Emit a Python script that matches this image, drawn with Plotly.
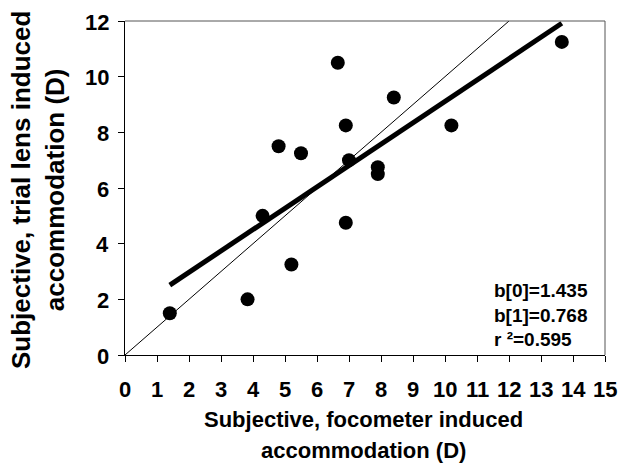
import plotly.graph_objects as go

# Data
x_focometer = [1.4, 3.83, 4.3, 4.8, 5.2, 5.5, 6.65, 6.9, 7.0, 6.9, 7.9, 7.9, 8.4, 10.2, 13.65]
y_trial = [1.5, 2.0, 5.0, 7.5, 3.25, 7.25, 10.5, 8.25, 7.0, 4.75, 6.75, 6.5, 9.25, 8.25, 11.25]
b0 = 1.435
b1 = 0.768
r2 = 0.595
identity_x = [0, 12]
identity_y = [0, 12]
x_ticks = list(range(0, 16))
y_ticks = list(range(0, 13, 2))
x_title_lines = ["Subjective, focometer induced", "accommodation (D)"]
y_title_lines = ["Subjective, trial lens induced", "accommodation (D)"]

fit_x = [min(x_focometer), max(x_focometer)]
fit_y = [b0 + b1 * v for v in fit_x]

FONT = "Liberation Sans, Arial, sans-serif"
W, H = 622, 467
ML, MR, MT, MB = 125, 17, 21, 112
PW, PH = W - ML - MR, H - MT - MB


def px_x(px):
    return (px - ML) / PW


def px_y(py):
    return (H - MB - py) / PH


fig = go.Figure()
fig.add_trace(go.Scatter(x=identity_x, y=identity_y, mode="lines",
                         line=dict(color="black", width=1), showlegend=False))
fig.add_trace(go.Scatter(x=fit_x, y=fit_y, mode="lines",
                         line=dict(color="black", width=5), showlegend=False))
fig.add_trace(go.Scatter(x=x_focometer, y=y_trial, mode="markers",
                         marker=dict(color="black", size=14), showlegend=False))

fig.add_annotation(x=11.47, y=1.45, xref="x", yref="y",
                   text=f"<b>b[0]={b0:.3f}<br>b[1]={b1:.3f}<br>r ²={r2:.3f}</b>",
                   showarrow=False, xanchor="left", yanchor="middle", align="left",
                   font=dict(family=FONT, size=19, color="black"))

# bold tick labels
for v in x_ticks:
    fig.add_annotation(x=v, xref="x", y=px_y(389), yref="paper", text=f"<b>{v}</b>",
                       showarrow=False, xanchor="center", yanchor="middle",
                       font=dict(family=FONT, size=22, color="black"))
for v in y_ticks:
    fig.add_annotation(x=px_x(111), xref="paper", y=v, yref="y", text=f"<b>{v}</b>",
                       showarrow=False, xanchor="right", yanchor="middle", yshift=-1,
                       font=dict(family=FONT, size=22, color="black"))

# axis titles
fig.add_annotation(x=px_x(363), xref="paper", y=px_y(419), yref="paper",
                   text=f"<b>{x_title_lines[0]}</b>", showarrow=False,
                   xanchor="center", yanchor="middle",
                   font=dict(family=FONT, size=22, color="black"))
fig.add_annotation(x=px_x(363), xref="paper", y=px_y(450), yref="paper",
                   text=f"<b>{x_title_lines[1]}</b>", showarrow=False,
                   xanchor="center", yanchor="middle",
                   font=dict(family=FONT, size=22, color="black"))
fig.add_annotation(x=px_x(38), xref="paper", y=px_y(190), yref="paper",
                   text=f"<b>{y_title_lines[0]}<br>{y_title_lines[1]}</b>", showarrow=False,
                   textangle=-90, xanchor="center", yanchor="middle",
                   font=dict(family=FONT, size=26, color="black"))

# top / right frame
fig.add_shape(type="line", xref="paper", yref="paper", x0=0, x1=1, y0=1, y1=1,
              line=dict(color="#555", width=1))
fig.add_shape(type="line", xref="paper", yref="paper", x0=1, x1=1, y0=0, y1=1,
              line=dict(color="#555", width=1))

fig.update_layout(
    width=W, height=H,
    margin=dict(l=ML, r=MR, t=MT, b=MB),
    paper_bgcolor="white", plot_bgcolor="white",
    font=dict(family=FONT, color="black"),
    xaxis=dict(range=[0, 15], tickvals=x_ticks, showticklabels=False,
               ticks="outside", ticklen=6,
               tickcolor="black", showline=True, linecolor="black", linewidth=1,
               showgrid=False, zeroline=False),
    yaxis=dict(range=[0, 12], tickvals=y_ticks, showticklabels=False,
               ticks="outside", ticklen=6,
               tickcolor="black", showline=True, linecolor="black", linewidth=1,
               showgrid=False, zeroline=False),
)

fig.write_html("out.html")
